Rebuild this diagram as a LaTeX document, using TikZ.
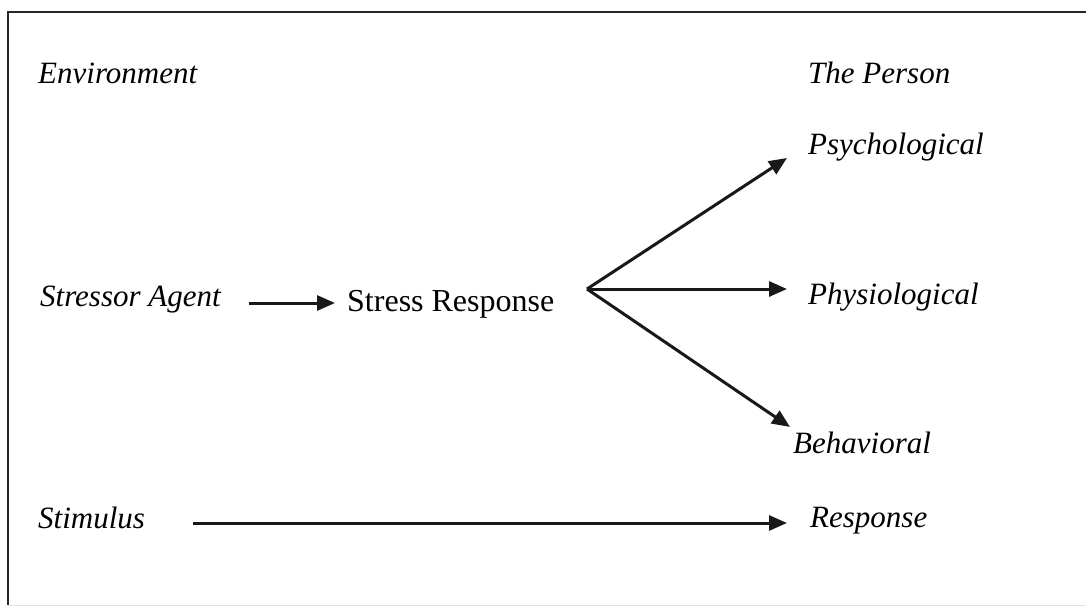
\documentclass[tikz,border=0pt]{standalone}
\usepackage{fontspec}
\setmainfont{Liberation Serif}
\usetikzlibrary{arrows.meta,calc}
\begin{document}
\begin{tikzpicture}[x=1pt,y=-1pt,
  lbl/.style={anchor=base west,inner sep=0pt,font=\fontsize{31}{37}\selectfont\itshape},
  plain/.style={anchor=base west,inner sep=0pt,font=\fontsize{32}{38}\selectfont},
  link/.style={line width=3pt,black!90,-{Triangle[length=18pt,width=15pt]}}]
  \useasboundingbox (0,0) rectangle (1086,613);
  % frame
  \draw[line width=2.6pt,black!85] (8,605) -- (8,12) -- (1090,12);
  \draw[line width=1pt,black!12] (8,605) -- (1090,605);
  % headings
  \node[lbl] (env) at (38,83) {Environment};
  \node[lbl] (person) at (808,83) {The Person};
  % middle row
  \node[lbl] (agent) at (40,306) {Stressor Agent};
  \node[plain] (sresp) at (347,311) {Stress Response};
  \node[lbl] (psych) at (808,154) {Psychological};
  \node[lbl] (physio) at (808,304) {Physiological};
  \node[lbl] (behav) at (793,453) {Behavioral};
  % bottom row
  \node[lbl] (stim) at (38,528) {Stimulus};
  \node[lbl] (resp) at (810,527) {Response};
  % connector end points
  \coordinate (fork) at (587,289);
  \coordinate (a0) at ($(agent.base east)+(28,-3)$);
  \coordinate (a1) at ($(sresp.base west)+(-12,-8)$);
  \coordinate (t1) at ($(psych.base west)+(-21,4)$);
  \coordinate (t2) at ($(physio.base west)+(-21,0)$);
  \coordinate (t3) at ($(behav.base west)+(-3,-26)$);
  \coordinate (s0) at ($(stim.base east)+(48,-5)$);
  \coordinate (s1) at ($(resp.base west)+(-23,-4)$);
  % connectors
  \draw[link] (a0) -- (a1 |- a0);
  \draw[link] (fork) -- (t1);
  \draw[link] (fork) -- (t2 |- fork);
  \draw[link] (fork) -- (t3);
  \draw[link] (s0) -- (s1 |- s0);
\end{tikzpicture}
\end{document}
